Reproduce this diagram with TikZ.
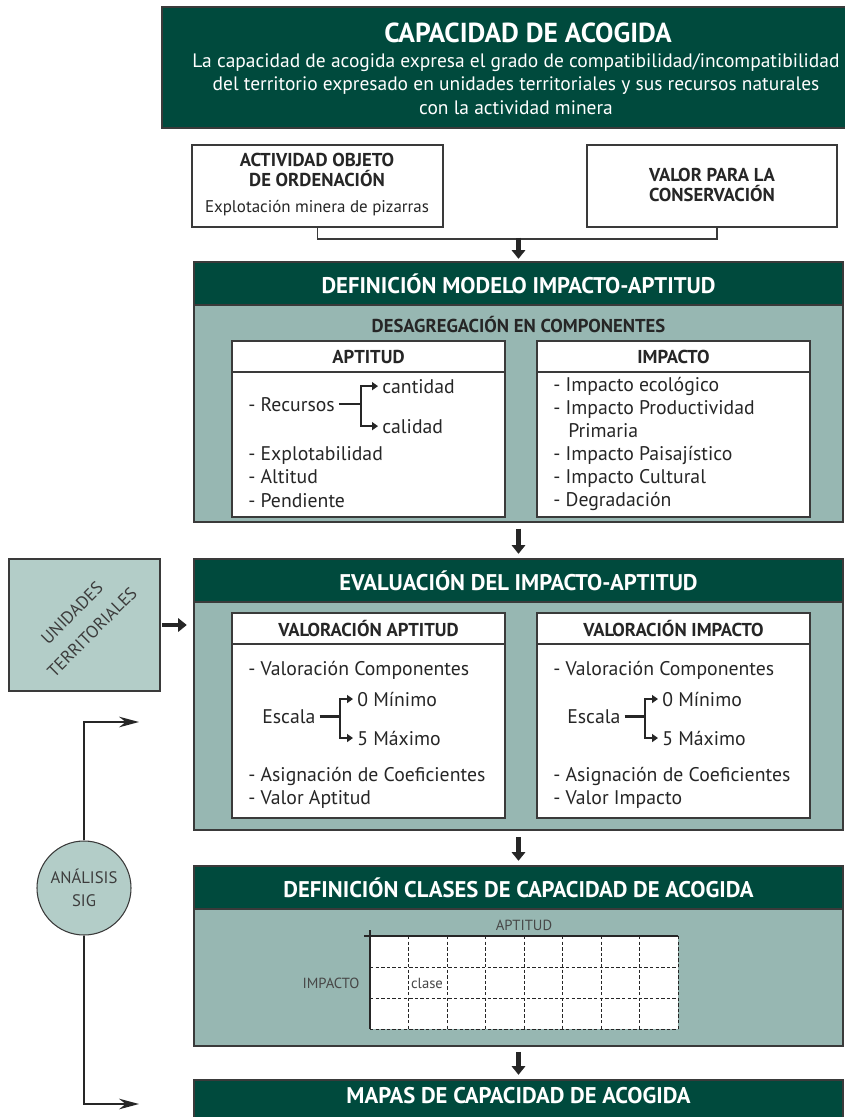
\documentclass[tikz,border=0pt]{standalone}
\usepackage{fontspec}
\setmainfont{PT Sans}
\usetikzlibrary{arrows.meta,fit}

\definecolor{hdrgreen}{HTML}{004A3D}
\definecolor{bodyteal}{HTML}{97B7B2}
\definecolor{paleteal}{HTML}{B3CDC8}
\definecolor{ink}{HTML}{262626}
\definecolor{rule}{HTML}{3A3A3A}

\tikzset{
  area/.style={fit={#1}, inner sep=0pt, draw=rule, line width=0.8pt},
  headbar/.style={fill=hdrgreen},
  bodyarea/.style={fill=bodyteal},
  whitebox/.style={fill=white},
  hdrtext/.style={text=white, inner sep=0pt, font=\bfseries\fontsize{17}{19}\selectfont},
  subhead/.style={text=ink, inner sep=0pt, font=\bfseries\fontsize{14}{15}\selectfont},
  txt/.style={text=ink, inner sep=0pt, anchor=base west, font=\fontsize{14.8}{17}\selectfont},
  small/.style={text=ink!85, inner sep=0pt, font=\fontsize{11}{12}\selectfont},
  slanted/.style={text=ink!90, inner sep=0pt, rotate=45, font=\fontsize{13}{15}\selectfont},
  thinline/.style={draw=rule, line width=0.8pt},
  thickarrow/.style={draw=ink, line width=3.5pt, -{Triangle[width=10pt,length=6.5pt]}},
  forkline/.style={draw=ink, line width=2pt},
  forkarrow/.style={draw=ink, line width=2pt, -{Triangle[width=6pt,length=4.5pt]}},
  sigline/.style={draw=ink, line width=1.1pt, -{Stealth[length=15pt,width=8pt,inset=5pt]}},
  gridline/.style={draw=ink, line width=0.7pt, dash pattern=on 2.6pt off 1.6pt},
}

\begin{document}
\begin{tikzpicture}[x=0.75pt,y=-0.75pt]
\useasboundingbox (0,0) rectangle (845,1117);

% ---- title banner
\node[area={(162,7)(850,128)}, headbar] (banner) {};
\node[text=white, inner sep=0pt, font=\bfseries\fontsize{20.6}{24}\selectfont] (title) at (528,33) {CAPACIDAD DE ACOGIDA};
\node[text=white, inner sep=0pt, align=center, font=\fontsize{14.6}{17.6}\selectfont] (subtitle) at (516,84)
  {La capacidad de acogida expresa el grado de compatibilidad/incompatibilidad\\
   del territorio expresado en unidades territoriales y sus recursos naturales\\
   con la actividad minera};

% ---- input boxes
\node[area={(192,145)(443,227)}, whitebox] (actividad) {};
\node[subhead, align=center] at (317,170) {ACTIVIDAD OBJETO\\DE ORDENACIÓN};
\node[text=ink, inner sep=0pt, font=\fontsize{12.7}{14}\selectfont] at (317,208) {Explotación minera de pizarras};
\node[area={(587,145)(837,227)}, whitebox] (valor) {};
\node[subhead, align=center] at (712,185) {VALOR PARA LA\\CONSERVACIÓN};

\coordinate (split) at (518.5,239);
\coordinate (valorfoot) at (717,227);
\draw[thinline] (actividad.south) |- (split) -| (valorfoot);

% ---- section 1
\node[area={(194,262)(843,522)}, bodyarea] (modelo) {};
\node[area={(194,262)(843,305)}, headbar] (modelohead) {};
\node[hdrtext] at (modelohead.center) {DEFINICIÓN MODELO IMPACTO-APTITUD};
\node[subhead] at (518.5,325) {DESAGREGACIÓN EN COMPONENTES};

\draw[thickarrow, shorten <=-1pt, shorten >=2pt] (split) -- (modelo.north);

\node[area={(232,341)(505,517)}, whitebox] (aptitud) {};
\node[area={(232,341)(505,372)}, whitebox] (aptitudhead) {};
\node[subhead] at (aptitudhead.center) {APTITUD};
\node[area={(537,341)(810,517)}, whitebox] (impacto) {};
\node[area={(537,341)(810,372)}, whitebox] (impactohead) {};
\node[subhead] at (impactohead.center) {IMPACTO};

\node[txt] (rec) at (248,411) {- Recursos};
\node[txt] (cant) at (382,393) {cantidad};
\node[txt] (cal) at (382,433) {calidad};
\node[txt] at (248,460) {- Explotabilidad};
\node[txt] at (248,483) {- Altitud};
\node[txt] at (248,507) {- Pendiente};
\coordinate (recfork) at (361,405);
\draw[forkline, shorten <=3pt] (rec.east) -- (rec.east -| recfork);
\draw[forkarrow, shorten >=3pt] (rec.east -| recfork) |- (cant.west);
\draw[forkarrow, shorten >=3pt] (rec.east -| recfork) |- (cal.west);

\node[txt] at (553,391) {- Impacto ecológico};
\node[txt] at (553,414) {- Impacto Productividad};
\node[txt] at (568,437) {Primaria};
\node[txt] at (553,460) {- Impacto Paisajístico};
\node[txt] at (553,483) {- Impacto Cultural};
\node[txt] at (553,506) {- Degradación};

% ---- section 2
\node[area={(194,559)(843,830)}, bodyarea] (evaluacion) {};
\node[area={(194,559)(843,602)}, headbar] (evaluacionhead) {};
\node[hdrtext] at (evaluacionhead.center) {EVALUACIÓN DEL IMPACTO-APTITUD};
\draw[thickarrow, shorten <=4.5pt, shorten >=3.5pt] (modelo.south) -- (evaluacion.north);

\node[area={(232,613)(505,818)}, whitebox] (valapt) {};
\node[area={(232,613)(505,644)}, whitebox] (valapthead) {};
\node[subhead] at (valapthead.center) {VALORACIÓN APTITUD};
\node[area={(537,613)(810,818)}, whitebox] (valimp) {};
\node[area={(537,613)(810,644)}, whitebox] (valimphead) {};
\node[subhead] at (valimphead.center) {VALORACIÓN IMPACTO};

\node[txt] at (248,675) {- Valoración Componentes};
\node[txt] (escA) at (262,723) {Escala};
\node[txt] (minA) at (357,706) {0 Mínimo};
\node[txt] (maxA) at (357,745) {5 Máximo};
\node[txt] at (248,781) {- Asignación de Coeficientes};
\node[txt] at (248,804) {- Valor Aptitud};
\coordinate (forkA) at (340,717);
\draw[forkline, shorten <=3pt] (escA.east) -- (escA.east -| forkA);
\draw[forkarrow, shorten >=3pt] (escA.east -| forkA) |- (minA.west);
\draw[forkarrow, shorten >=3pt] (escA.east -| forkA) |- (maxA.west);

\node[txt] at (553,675) {- Valoración Componentes};
\node[txt] (escB) at (567,723) {Escala};
\node[txt] (minB) at (662,706) {0 Mínimo};
\node[txt] (maxB) at (662,745) {5 Máximo};
\node[txt] at (553,781) {- Asignación de Coeficientes};
\node[txt] at (553,804) {- Valor Impacto};
\coordinate (forkB) at (645,717);
\draw[forkline, shorten <=3pt] (escB.east) -- (escB.east -| forkB);
\draw[forkarrow, shorten >=3pt] (escB.east -| forkB) |- (minB.west);
\draw[forkarrow, shorten >=3pt] (escB.east -| forkB) |- (maxB.west);

% ---- territorial units
\node[area={(9,559)(160,691)}, fill=paleteal] (unidades) {};
\node[slanted] (unidadesA) at (72,613) {UNIDADES};
\node[slanted] (unidadesB) at (92,632) {TERRITORIALES};
\draw[thickarrow, shorten <=1pt, shorten >=5pt] (unidades.east) -- (unidades.east -| evaluacion.west);

% ---- section 3
\node[area={(194,866)(843,1046)}, bodyarea] (clases) {};
\node[area={(194,866)(843,909)}, headbar] (claseshead) {};
\node[hdrtext] at (claseshead.center) {DEFINICIÓN CLASES DE CAPACIDAD DE ACOGIDA};
\draw[thickarrow, shorten <=5pt, shorten >=3.5pt] (evaluacion.south) -- (clases.north);

\node[fit={(370,936)(678,1029)}, inner sep=0pt, fill=white] (matriz) {};
\foreach \i in {1,...,8} \draw[gridline] ({370+38.5*\i},936) -- ({370+38.5*\i},1029);
\foreach \j in {967,998,1029} \draw[gridline] (370,\j) -- (678,\j);
\draw[draw=ink, line width=0.8pt] (364,936) -- (678,936);
\draw[draw=ink, line width=0.8pt] (370,930) -- (370,1029);
\node[small] at (524,925) {APTITUD};
\node[small] at (331,983) {IMPACTO};
\node[small] at (427,983) {clase};

% ---- section 4
\node[area={(194,1080)(843,1130)}, headbar] (mapas) {};
\node[hdrtext] at (518.5,1096) {MAPAS DE CAPACIDAD DE ACOGIDA};
\draw[thickarrow, shorten <=4pt, shorten >=3.5pt] (clases.south) -- (mapas.north);

% ---- GIS analysis
\node[circle, draw=rule, line width=0.8pt, fill=paleteal, minimum size=70.5pt, inner sep=0pt,
      align=center, text=ink!90, font=\fontsize{12.5}{17}\selectfont] (sig) at (84,888) {ANÁLISIS\\SIG};
\coordinate (sigup) at (139,722);
\coordinate (sigdown) at (139,1104);
\draw[sigline] (sig.north) |- (sigup);
\draw[sigline] (sig.south) |- (sigdown);

\end{tikzpicture}
\end{document}
